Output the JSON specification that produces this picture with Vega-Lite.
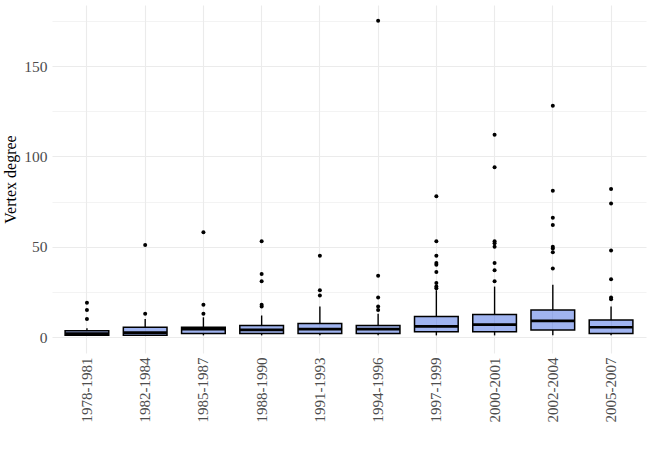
{
  "$schema": "https://vega.github.io/schema/vega-lite/v6.json",
  "width": 594,
  "height": 348,
  "autosize": {"type": "none"},
  "padding": {"left": 52, "top": 5, "right": 4, "bottom": 97},
  "background": "white",
  "config": {
    "view": {"stroke": null},
    "font": "Liberation Serif",
    "axis": {"ticks": false, "domain": false, "gridColor": "#EBEBEB", "labelColor": "#4D4D4D", "labelFont": "Liberation Serif", "titleFont": "Liberation Serif", "titleFontWeight": "normal", "titleColor": "black"}
  },
  "datasets": {
    "boxes": [
      {"period": "1978-1981", "lower": 1, "q1": 1, "median": 2, "q3": 3.5, "upper": 5},
      {"period": "1982-1984", "lower": 1, "q1": 1, "median": 2.5, "q3": 5.5, "upper": 10},
      {"period": "1985-1987", "lower": 1, "q1": 2, "median": 4.5, "q3": 5.5, "upper": 11},
      {"period": "1988-1990", "lower": 1, "q1": 2, "median": 4, "q3": 6.5, "upper": 12},
      {"period": "1991-1993", "lower": 1, "q1": 2, "median": 4.5, "q3": 7.5, "upper": 17},
      {"period": "1994-1996", "lower": 1, "q1": 2, "median": 4.5, "q3": 6.5, "upper": 13},
      {"period": "1997-1999", "lower": 1, "q1": 3, "median": 6, "q3": 11.5, "upper": 26},
      {"period": "2000-2001", "lower": 1, "q1": 3, "median": 7, "q3": 12.5, "upper": 28},
      {"period": "2002-2004", "lower": 1, "q1": 4, "median": 9, "q3": 15, "upper": 29},
      {"period": "2005-2007", "lower": 1, "q1": 2, "median": 5.5, "q3": 9.5, "upper": 17}
    ],
    "outliers": [
      {"period": "1978-1981", "degree": 10}, {"period": "1978-1981", "degree": 15}, {"period": "1978-1981", "degree": 19},
      {"period": "1982-1984", "degree": 13}, {"period": "1982-1984", "degree": 51},
      {"period": "1985-1987", "degree": 13}, {"period": "1985-1987", "degree": 18}, {"period": "1985-1987", "degree": 58},
      {"period": "1988-1990", "degree": 17}, {"period": "1988-1990", "degree": 18}, {"period": "1988-1990", "degree": 31}, {"period": "1988-1990", "degree": 35}, {"period": "1988-1990", "degree": 53},
      {"period": "1991-1993", "degree": 23}, {"period": "1991-1993", "degree": 26}, {"period": "1991-1993", "degree": 45},
      {"period": "1994-1996", "degree": 15}, {"period": "1994-1996", "degree": 17}, {"period": "1994-1996", "degree": 22}, {"period": "1994-1996", "degree": 34}, {"period": "1994-1996", "degree": 175},
      {"period": "1997-1999", "degree": 27}, {"period": "1997-1999", "degree": 28}, {"period": "1997-1999", "degree": 30}, {"period": "1997-1999", "degree": 36}, {"period": "1997-1999", "degree": 40}, {"period": "1997-1999", "degree": 41}, {"period": "1997-1999", "degree": 45}, {"period": "1997-1999", "degree": 53}, {"period": "1997-1999", "degree": 78},
      {"period": "2000-2001", "degree": 31}, {"period": "2000-2001", "degree": 37}, {"period": "2000-2001", "degree": 41}, {"period": "2000-2001", "degree": 50}, {"period": "2000-2001", "degree": 52}, {"period": "2000-2001", "degree": 53}, {"period": "2000-2001", "degree": 94}, {"period": "2000-2001", "degree": 112},
      {"period": "2002-2004", "degree": 38}, {"period": "2002-2004", "degree": 47}, {"period": "2002-2004", "degree": 49}, {"period": "2002-2004", "degree": 50}, {"period": "2002-2004", "degree": 62}, {"period": "2002-2004", "degree": 66}, {"period": "2002-2004", "degree": 81}, {"period": "2002-2004", "degree": 128},
      {"period": "2005-2007", "degree": 21}, {"period": "2005-2007", "degree": 22}, {"period": "2005-2007", "degree": 32}, {"period": "2005-2007", "degree": 48}, {"period": "2005-2007", "degree": 74}, {"period": "2005-2007", "degree": 82}
    ]
  },
  "layer": [
    {
      "data": {"name": "boxes"},
      "mark": {"type": "rule", "stroke": "black", "strokeWidth": 1.4},
      "encoding": {
        "x": {
          "field": "period", "type": "nominal",
          "scale": {"type": "band", "paddingInner": 0, "paddingOuter": 0.1},
          "axis": {"title": null, "labelAngle": 270, "labelAlign": "right", "labelBaseline": "middle", "labelFontSize": 15, "labelPadding": 4, "grid": true, "gridWidth": 1.1, "bandPosition": 0.5}
        },
        "y": {
          "field": "q3", "type": "quantitative",
          "scale": {"domain": [-8.75, 183.75], "nice": false, "zero": false},
          "axis": {
            "title": "Vertex degree", "titleFontSize": 16, "titlePadding": 5,
            "values": [0, 25, 50, 75, 100, 125, 150, 175],
            "labelExpr": "datum.value % 50 === 0 ? datum.label : ''",
            "labelFontSize": 15.5, "labelPadding": 5,
            "grid": true,
            "gridWidth": {"condition": {"test": "datum.value % 50 === 0", "value": 1.1}, "value": 0.6}
          }
        },
        "y2": {"field": "upper"}
      }
    },
    {
      "data": {"name": "boxes"},
      "mark": {"type": "rule", "stroke": "black", "strokeWidth": 1.4},
      "encoding": {
        "x": {"field": "period", "type": "nominal"},
        "y": {"field": "lower", "type": "quantitative"},
        "y2": {"field": "q1"}
      }
    },
    {
      "data": {"name": "boxes"},
      "mark": {"type": "bar", "fill": "#4169E1", "fillOpacity": 0.5, "stroke": "black", "strokeWidth": 1.5, "width": {"band": 0.75}},
      "encoding": {
        "x": {"field": "period", "type": "nominal"},
        "y": {"field": "q1", "type": "quantitative"},
        "y2": {"field": "q3"}
      }
    },
    {
      "data": {"name": "boxes"},
      "mark": {"type": "tick", "color": "black", "size": 43.5, "thickness": 2.7, "opacity": 1},
      "encoding": {
        "x": {"field": "period", "type": "nominal"},
        "y": {"field": "median", "type": "quantitative"}
      }
    },
    {
      "data": {"name": "outliers"},
      "mark": {"type": "circle", "color": "black", "size": 16, "opacity": 1},
      "encoding": {
        "x": {"field": "period", "type": "nominal"},
        "y": {"field": "degree", "type": "quantitative"}
      }
    }
  ]
}
